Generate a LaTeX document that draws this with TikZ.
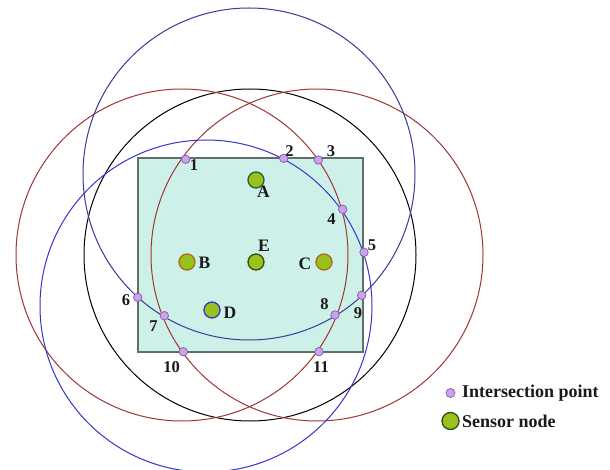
\documentclass[tikz,border=0pt]{standalone}
\usepackage{fontspec}
\setmainfont{Liberation Serif}
\begin{document}
\begin{tikzpicture}[x=1pt,y=-1pt,
  rangeblue/.style={draw=blueA,line width=1pt},
  rangeblueD/.style={draw=blueD,line width=1pt},
  rangered/.style={draw=redC,line width=1pt},
  rangeblack/.style={draw=black,line width=1pt},
  ipt/.style={circle,fill=ptfill,draw=ptdraw,line width=0.7pt,minimum size=8.5pt,inner sep=0pt},
  snode/.style={circle,fill=nodegreen,line width=1.3pt,minimum size=16pt,inner sep=0pt},
  nlab/.style={font=\bfseries\fontsize{16.5}{16.5}\selectfont,inner sep=0pt,text=labcol},
  slab/.style={font=\bfseries\fontsize{17.5}{17.5}\selectfont,inner sep=0pt,text=labcol},
  leglab/.style={font=\bfseries\fontsize{18}{18}\selectfont,inner sep=0pt,anchor=west,text=labcol}]
\definecolor{blueA}{HTML}{3A3A98}
\definecolor{blueD}{HTML}{3535D0}
\definecolor{redC}{HTML}{A03535}
\definecolor{rectfill}{HTML}{CDF1E8}
\definecolor{rectdraw}{HTML}{607068}
\definecolor{ptfill}{HTML}{C9A2F0}
\definecolor{ptdraw}{HTML}{8858A8}
\definecolor{nodegreen}{HTML}{99C21C}
\definecolor{labcol}{HTML}{1A1A1A}
\definecolor{outA}{HTML}{2E5A3A}
\definecolor{outBC}{HTML}{B0681A}
\definecolor{outE}{HTML}{2A5010}
\useasboundingbox (0,0) rectangle (610,470);
\clip (0,0) rectangle (610,470);
\fill[white] (0,0) rectangle (610,470);
% field
\draw[fill=rectfill,draw=rectdraw,line width=1.1pt] (138,158) rectangle (363,352);
% ranges
\draw[rangeblack] (250,255) circle (166);
\draw[rangered] (182,255) circle (166);
\draw[rangered] (317,255) circle (166);
\draw[rangeblue] (249,174) circle (166);
\draw[rangeblueD] (206,306) circle (166);
% sensor nodes
\node[snode,draw=outA] (A) at (256,180) {};
\node[snode,draw=outBC] (B) at (187,262) {};
\node[snode,draw=outE] (E) at (256,262) {};
\node[snode,draw=outBC] (C) at (324,262) {};
\node[snode,draw=blueD] (D) at (212,310) {};
\node[slab] at (263.5,192) {A};
\node[slab] at (204.5,262.5) {B};
\node[slab] at (264,246) {E};
\node[slab] at (305,263.5) {C};
\node[slab] at (230,312.5) {D};
% intersection points
\node[ipt] (p1) at (185.7,159.3) {};
\node[ipt] (p2) at (283.7,158.3) {};
\node[ipt] (p3) at (318.3,160) {};
\node[ipt] (p4) at (342.7,209.3) {};
\node[ipt] (p5) at (364,252.3) {};
\node[ipt] (p6) at (137.7,297.3) {};
\node[ipt] (p7) at (164.3,315.7) {};
\node[ipt] (p8) at (335,315) {};
\node[ipt] (p9) at (361.7,295.3) {};
\node[ipt] (p10) at (183.3,351.7) {};
\node[ipt] (p11) at (319,351.7) {};
\node[nlab] at (194,165) {1};
\node[nlab] at (289.5,151) {2};
\node[nlab] at (331,151) {3};
\node[nlab] at (331.5,219) {4};
\node[nlab] at (372,245.5) {5};
\node[nlab] at (126,300) {6};
\node[nlab] at (153.5,326.5) {7};
\node[nlab] at (324.5,304) {8};
\node[nlab] at (358,313.5) {9};
\node[nlab] at (171.5,367.5) {10};
\node[nlab] at (321,367.5) {11};
% legend
\node[ipt,minimum size=9pt] (lp) at (450.5,393) {};
\node[leglab] (lpt) at (462,393) {Intersection point};
\node[snode,draw=outE,minimum size=17pt] (ls) at (450.5,421) {};
\node[leglab] (lst) at (462,421) {Sensor node};
\end{tikzpicture}
\end{document}
